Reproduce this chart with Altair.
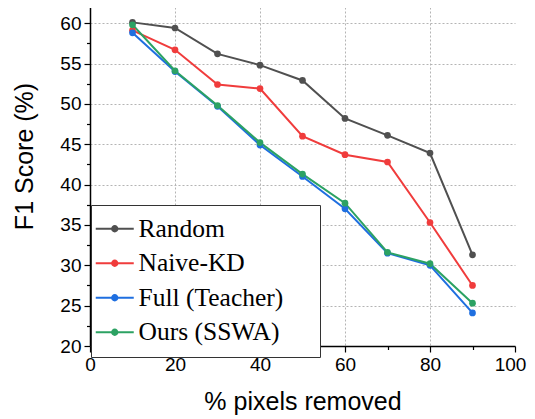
import altair as alt
import pandas as pd

pct_removed = [10, 20, 30, 40, 50, 60, 70, 80, 90]
random_f1 = [60.1, 59.4, 56.2, 54.8, 52.9, 48.2, 46.1, 43.9, 31.3]
naive_kd_f1 = [59.1, 56.7, 52.4, 51.9, 46.0, 43.7, 42.8, 35.3, 27.5]
full_teacher_f1 = [58.8, 54.0, 49.7, 44.9, 41.0, 37.0, 31.5, 30.0, 24.1]
ours_sswa_f1 = [59.8, 54.1, 49.8, 45.2, 41.3, 37.7, 31.6, 30.2, 25.3]

methods = ["Random", "Naive-KD", "Full (Teacher)", "Ours (SSWA)"]
colors = ["#505050", "#f03c3c", "#1f6fe0", "#2ca263"]
series = [random_f1, naive_kd_f1, full_teacher_f1, ours_sswa_f1]

x_ticks = list(range(0, 101, 10))
y_ticks = [20 + 2.5 * i for i in range(18)]

rows = []
for m, vals in zip(methods, series):
    for xv, yv in zip(pct_removed, vals):
        rows.append({"x": xv, "y": yv, "method": m})
df = pd.DataFrame(rows)

scale = alt.Scale(domain=methods, range=colors)
legend = alt.Legend(
    title=None,
    orient="none",
    legendX=1,
    legendY=202,
    strokeColor="#333333",
    fillColor="white",
    padding=11,
    labelFont="Liberation Serif",
    labelFontSize=25.5,
    labelFontWeight="normal",
    labelColor="black",
    labelOffset=11,
    labelLimit=0,
    labelExpr="datum.label + '\u00a0\u00a0\u00a0\u00a0\u200b'",
    rowPadding=7.5,
    symbolType="M-2,0H2M0.28,0A0.28,0.28,0,1,1,-0.28,0A0.28,0.28,0,1,1,0.28,0Z",
    symbolSize=361,
    symbolStrokeWidth=2,
)

xaxis = alt.Axis(
    values=x_ticks,
    labelExpr="datum.value % 20 === 0 ? datum.label : ''",
    labelOffset={"condition": {"test": "datum.value === 100", "value": -5}, "value": 0},
    tickSize={"condition": {"test": "datum.value % 20 === 0", "value": 6}, "value": 3.5},
    gridOpacity={"condition": {"test": "datum.value % 20 === 0 && datum.value > 0 && datum.value < 100", "value": 1}, "value": 0},
    grid=True,
    gridColor="#b4b4b4",
    gridDash=[2, 2],
    gridWidth=1,
    domainColor="black",
    domainWidth=1.5,
    tickColor="black",
    tickWidth=1.2,
    labelFont="Liberation Sans",
    labelFontSize=19,
    labelColor="black",
    labelPadding=3,
    labelFlush=False,
    title="% pixels removed",
    titleFont="Liberation Sans",
    titleFontSize=25,
    titleFontWeight="normal",
    titleColor="black",
    titleBaseline="alphabetic",
    titleY=63,
)

yaxis = alt.Axis(
    values=y_ticks,
    labelExpr="datum.value % 5 === 0 ? datum.label : ''",
    tickSize={"condition": {"test": "datum.value % 5 === 0", "value": 6}, "value": 3.5},
    gridOpacity={"condition": {"test": "datum.value % 5 === 0 && datum.value > 20", "value": 1}, "value": 0},
    grid=True,
    gridColor="#b4b4b4",
    gridDash=[2, 2],
    gridWidth=1,
    domainColor="black",
    domainWidth=1.5,
    tickColor="black",
    tickWidth=1.2,
    labelFont="Liberation Sans",
    labelFontSize=19,
    labelColor="black",
    labelPadding=3,
    labelFlush=False,
    title="F1 Score (%)",
    titleFont="Liberation Sans",
    titleFontSize=25,
    titleFontWeight="normal",
    titleColor="black",
    titleAngle=270,
    titleAlign="center",
    titleBaseline="middle",
    titleX=-66,
    titleY=153,
)

xenc = alt.X("x:Q", scale=alt.Scale(domain=[0, 100], nice=False), axis=xaxis)
yenc = alt.Y("y:Q", scale=alt.Scale(domain=[20, 62.5], nice=False, zero=False), axis=yaxis)

lines = alt.Chart(df).mark_line(strokeWidth=2).encode(
    x=xenc,
    y=yenc,
    color=alt.Color("method:N", scale=scale, legend=legend, sort=methods),
    order=alt.Order("x:Q"),
)
points = alt.Chart(df).mark_circle(size=45, opacity=1).encode(
    x=xenc,
    y=yenc,
    fill=alt.Fill("method:N", scale=scale, legend=legend, sort=methods),
)

chart = alt.layer(lines, points).properties(
    width=425,
    height=343,
    autosize=alt.AutoSizeParams(type="none"),
    padding={"left": 82, "top": -5, "right": 12, "bottom": 71},
).configure_view(stroke=None)

chart.save("out.html", embed_options={"renderer": "svg", "actions": False})
